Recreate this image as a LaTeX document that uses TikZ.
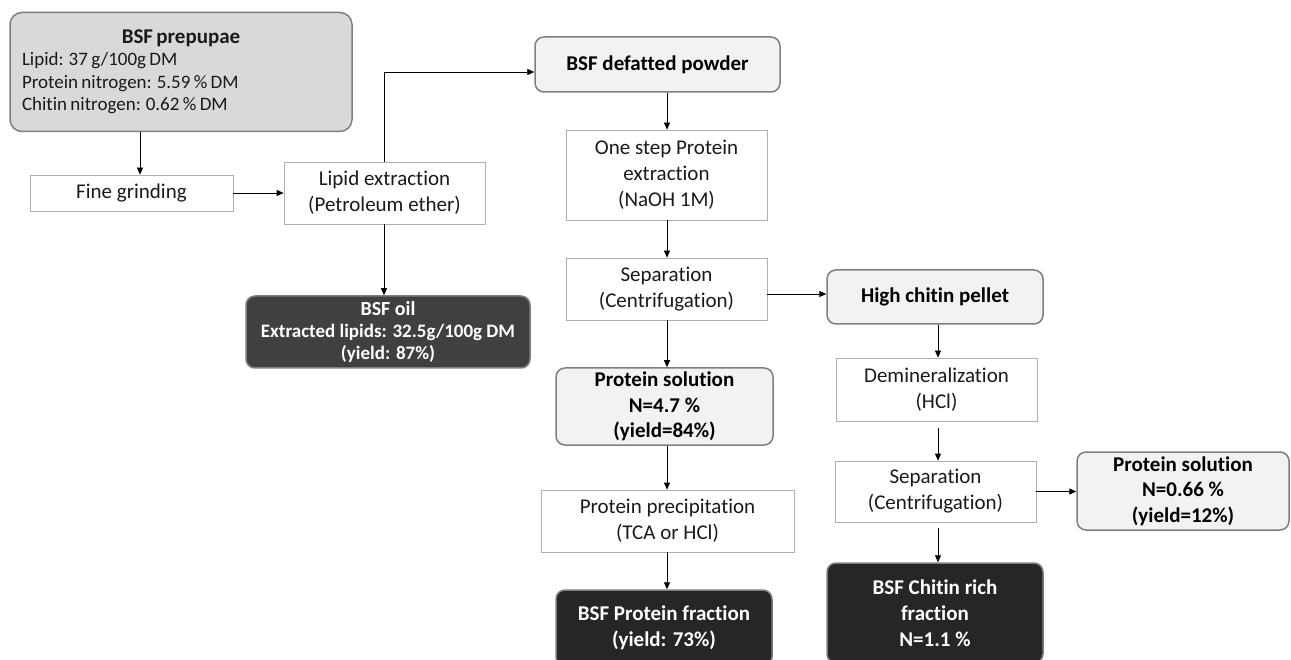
\documentclass[tikz,border=0pt]{standalone}
\usepackage{fontspec}
\setmainfont[Ligatures=NoCommon]{Carlito}
\usetikzlibrary{arrows.meta}
\definecolor{lightfill}{HTML}{F2F2F2}
\definecolor{prepfill}{HTML}{D9D9D9}
\definecolor{rimgray}{HTML}{7F7F7F}
\definecolor{thinrim}{HTML}{AFAFAF}
\definecolor{oilfill}{HTML}{404040}
\definecolor{darkfill}{HTML}{262626}
\definecolor{txt}{HTML}{1A1A1A}
\begin{document}
\begin{tikzpicture}[x=1pt,y=-1pt,
  stepbox/.style={draw=thinrim, line width=0.8pt, fill=white, text=txt, align=center, inner sep=0pt,
    font=\fontsize{21}{26}\selectfont},
  lightbox/.style={draw=rimgray, line width=1.5pt, fill=lightfill, text=black, rounded corners=9pt, align=center, inner sep=0pt,
    font=\fontsize{21}{25.5}\selectfont\bfseries},
  darkbox/.style={draw=rimgray, line width=1.5pt, fill=darkfill, text=white, rounded corners=9pt, align=center, inner sep=0pt,
    font=\fontsize{21}{26}\selectfont\bfseries},
  arr/.style={draw=black, line width=0.8pt, -{Triangle[length=7pt,width=6pt]}}
]
\useasboundingbox (0,0) rectangle (1291,660);
\fill[white] (0,0) rectangle (1291,660);

% left column
\node[draw=rimgray, line width=1.5pt, fill=prepfill, rounded corners=12pt, inner sep=0pt,
  minimum width=342pt, minimum height=119pt, text width=318pt, text=txt] (prep) at (181,72)
  {\centering\fontsize{21}{23}\selectfont\bfseries BSF prepupae\par
   \raggedright\fontsize{19}{22.5}\selectfont\mdseries
   Lipid: 37 g/100g DM\par
   Protein nitrogen: 5.59 \% DM\par
   Chitin nitrogen: 0.62 \% DM\par};

\node[stepbox, minimum width=203pt, minimum height=36pt] (fine) at (131.5,193) {Fine grinding};
\node[stepbox, minimum width=201pt, minimum height=62pt] (lipid) at (384.5,193) {Lipid extraction\\(Petroleum ether)};
\node[darkbox, fill=oilfill, minimum width=284pt, minimum height=72pt, font=\fontsize{19}{22}\selectfont\bfseries] (oil) at (388,332)
  {{\fontsize{20}{22}\selectfont BSF oil}\\Extracted lipids: 32.5g/100g DM\\(yield: 87\%)};

% middle column
\node[lightbox, minimum width=245pt, minimum height=55pt] (defat) at (657.5,64.5) {BSF defatted powder};
\node[stepbox, minimum width=201pt, minimum height=90pt] (onestep) at (666.5,175) {One step Protein\\extraction\\(NaOH 1M)};
\node[stepbox, minimum width=201pt, minimum height=62pt] (sep1) at (666.5,289) {Separation\\(Centrifugation)};
\node[lightbox, minimum width=217pt, minimum height=77pt] (psol1) at (664.5,406.5) {Protein solution\\N=4.7 \%\\(yield=84\%)};
\node[stepbox, minimum width=253pt, minimum height=62pt] (precip) at (667.5,521) {Protein precipitation\\(TCA or HCl)};
\node[darkbox, minimum width=216pt, minimum height=76pt] (pfrac) at (664,628) {BSF Protein fraction\\(yield: 73\%)};

% right column
\node[lightbox, minimum width=216pt, minimum height=54pt] (pellet) at (935,297) {High chitin pellet};
\node[stepbox, minimum width=201pt, minimum height=63pt] (demin) at (936.5,389.5) {Demineralization\\(HCl)};
\node[stepbox, minimum width=201pt, minimum height=61pt] (sep2) at (935.5,491.5) {Separation\\(Centrifugation)};
\node[darkbox, minimum width=216pt, minimum height=100pt] (chitin) at (935,613) {BSF Chitin rich\\fraction\\N=1.1 \%};
\node[lightbox, minimum width=212pt, minimum height=78pt] (psol2) at (1183,491) {Protein solution\\N=0.66 \%\\(yield=12\%)};

% connectors
\coordinate (xprep) at (140,0);
\coordinate (xlip) at (384,0);
\coordinate (xmid) at (667,0);
\coordinate (xright) at (938,0);
\coordinate (ylip) at (0,72);
\coordinate (ysep) at (0,294);

\draw[arr] (prep.south -| xprep) -- (fine.north -| xprep);
\draw[arr] (fine.east) -- (lipid.west);
\draw[arr] (lipid.north -| xlip) |- (defat.west |- ylip);
\draw[arr] (lipid.south -| xlip) -- (oil.north -| xlip);
\draw[arr] (defat.south -| xmid) -- (onestep.north -| xmid);
\draw[arr] (onestep.south -| xmid) -- (sep1.north -| xmid);
\draw[arr] (sep1.east |- ysep) -- (pellet.west |- ysep);
\draw[arr] (sep1.south -| xmid) -- (psol1.north -| xmid);
\draw[arr] (psol1.south -| xmid) -- (precip.north -| xmid);
\draw[arr] (precip.south -| xmid) -- (pfrac.north -| xmid);
\draw[arr] (pellet.south -| xright) -- (demin.north -| xright);
\draw[arr] ([yshift=-7pt]demin.south -| xright) -- (sep2.north -| xright);
\draw[arr] (sep2.east) -- (psol2.west |- sep2.east);
\draw[arr] ([yshift=-6pt]sep2.south -| xright) -- (chitin.north -| xright);
\end{tikzpicture}
\end{document}
